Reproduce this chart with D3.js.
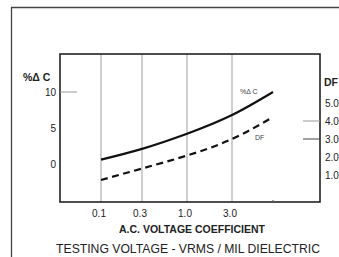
<!DOCTYPE html>
<html>
<head>
<meta charset="utf-8">
<script src="https://d3js.org/d3.v7.min.js"></script>
<style>
  body { margin: 0; background: #fff; }
  svg { display: block; font-family: "Liberation Sans", Arial, sans-serif; }
</style>
</head>
<body>
<script>
// test voltage (VRMS / mil)
const voltages = [0.1, 0.3, 1.0, 3.0, 10];
const capChange = [0.6, 2.1, 4.2, 6.8, 10.0];   // %ΔC, left axis
const dissFactor = [0.72, 1.36, 2.08, 3.0, 4.22]; // DF, right axis
const xTicks = [0.1, 0.3, 1.0, 3.0];
const leftTicks = [0, 5, 10];
const rightTicks = [1, 2, 3, 4, 5];

const width = 339, height = 257;
const box = {left: 60, top: 54, right: 320, bottom: 202};

const svg = d3.select('body').append('svg')
  .attr('width', width)
  .attr('height', height);

// outer frame (runs off the page on right / bottom)
svg.append('path')
  .attr('d', 'M11.5,' + (height + 5) + 'V7.5H' + (width + 5))
  .attr('fill', 'none')
  .attr('stroke', '#444')
  .attr('stroke-width', 1.3);

// x is roughly log, spacing not quite even in the original
const x = d3.scaleLog()
  .domain([0.1, 0.3, 1, 3, 10])
  .range([101, 142, 187, 232, 273]);
const yL = d3.scaleLinear().domain([0, 10]).range([164, 92]);
const yR = d3.scaleLinear().domain([1, 5]).range([175, 103]);

// gridlines
svg.append('g').selectAll('line')
  .data(xTicks)
  .enter().append('line')
  .attr('x1', d => x(d)).attr('x2', d => x(d))
  .attr('y1', box.top).attr('y2', box.bottom)
  .attr('stroke', '#a8a8a8')
  .attr('stroke-width', 1.1);

// plot box
svg.append('rect')
  .attr('x', box.left).attr('y', box.top)
  .attr('width', box.right - box.left)
  .attr('height', box.bottom - box.top)
  .attr('fill', 'none')
  .attr('stroke', '#222')
  .attr('stroke-width', 1.6);

// small tick on bottom edge
svg.append('line')
  .attr('x1', x(10)).attr('x2', x(10))
  .attr('y1', box.bottom - 2).attr('y2', box.bottom)
  .attr('stroke', '#555');

// x tick labels
svg.append('g').selectAll('text')
  .data(xTicks)
  .enter().append('text')
  .attr('x', d => x(d) - 2)
  .attr('y', 217)
  .attr('text-anchor', 'middle')
  .attr('font-size', 10)
  .attr('fill', '#222')
  .text(d3.format('.1f'));

svg.append('text')
  .attr('x', 192).attr('y', 233)
  .attr('text-anchor', 'middle')
  .attr('font-size', 10.5)
  .attr('font-weight', 'bold')
  .attr('fill', '#222')
  .text('A.C. VOLTAGE COEFFICIENT');

svg.append('text')
  .attr('x', 188).attr('y', 253)
  .attr('text-anchor', 'middle')
  .attr('font-size', 12.2)
  .attr('fill', '#222')
  .text('TESTING VOLTAGE - VRMS / MIL DIELECTRIC');

// left axis
svg.append('text')
  .attr('x', 23).attr('y', 81)
  .attr('font-size', 10.5)
  .attr('font-weight', 'bold')
  .attr('fill', '#222')
  .text('%Δ C');

svg.append('g').selectAll('text')
  .data(leftTicks)
  .enter().append('text')
  .attr('x', 56)
  .attr('y', d => yL(d) + 3.5)
  .attr('text-anchor', 'end')
  .attr('font-size', 10)
  .attr('fill', '#222')
  .text(d => d);

svg.append('line')
  .attr('x1', box.left).attr('x2', 77)
  .attr('y1', yL(10)).attr('y2', yL(10))
  .attr('stroke', '#999');

// right axis
svg.append('text')
  .attr('x', 324).attr('y', 86)
  .attr('font-size', 10.5)
  .attr('font-weight', 'bold')
  .attr('fill', '#222')
  .text('DF');

svg.append('g').selectAll('text')
  .data(rightTicks)
  .enter().append('text')
  .attr('x', 325)
  .attr('y', d => yR(d) + 3.5)
  .attr('font-size', 10)
  .attr('fill', '#222')
  .text(d3.format('.1f'));

svg.append('line')
  .attr('x1', 303).attr('x2', box.right)
  .attr('y1', yR(4)).attr('y2', yR(4))
  .attr('stroke', '#999');
svg.append('line')
  .attr('x1', 303).attr('x2', box.right)
  .attr('y1', yR(3)).attr('y2', yR(3))
  .attr('stroke', '#444');

// curves
const lineC = d3.line()
  .x((d, i) => x(voltages[i]))
  .y(d => yL(d))
  .curve(d3.curveNatural);
const lineDF = d3.line()
  .x((d, i) => x(voltages[i]))
  .y(d => yR(d))
  .curve(d3.curveNatural);

svg.append('path')
  .datum(capChange)
  .attr('d', lineC)
  .attr('fill', 'none')
  .attr('stroke', '#111')
  .attr('stroke-width', 2.2);

svg.append('path')
  .datum(dissFactor)
  .attr('d', lineDF)
  .attr('fill', 'none')
  .attr('stroke', '#111')
  .attr('stroke-width', 2.2)
  .attr('stroke-dasharray', '7,4.5');

// curve labels
svg.append('text')
  .attr('x', 240).attr('y', 94)
  .attr('font-size', 7)
  .attr('fill', '#444')
  .text('%Δ C');
svg.append('text')
  .attr('x', 255).attr('y', 140)
  .attr('font-size', 7)
  .attr('fill', '#444')
  .text('DF');
</script>
</body>
</html>
